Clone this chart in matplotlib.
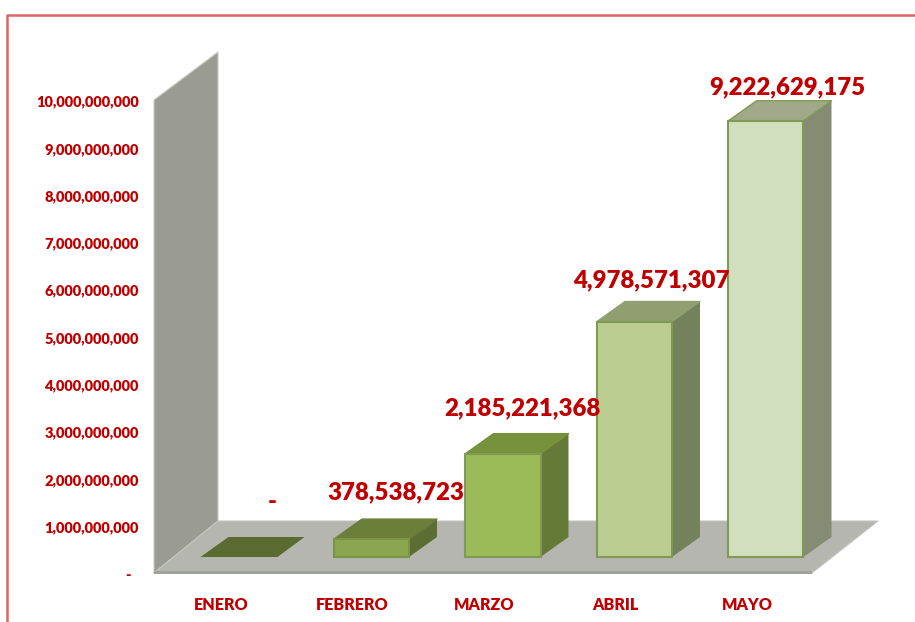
import matplotlib
matplotlib.use("Agg")
import matplotlib.pyplot as plt
from matplotlib.patches import Polygon, Rectangle
from matplotlib.ticker import FuncFormatter
from matplotlib.transforms import ScaledTranslation

plt.rcParams['font.family'] = ['Lato', 'DejaVu Sans']

meses = ['ENERO', 'FEBRERO', 'MARZO', 'ABRIL', 'MAYO']
valores = [0, 378538723, 2185221368, 4978571307, 9222629175]
marcas_y = [i * 1000000000 for i in range(11)]

# colores de cada barra: frente, tapa, lado
frente = ['#5a6a30', '#8aa64e', '#9bbb59', '#bccd92', '#d2dfbf']
tapa = ['#5a6a30', '#6b7f3a', '#76923c', '#919f70', '#a0a98a']
lado = ['#5a6a30', '#5c6e34', '#667a38', '#73825a', '#858c74']
# ajuste de la etiqueta respecto a la barra, en px
etiqueta_dx = [32, 24, 19, 17, 21]
etiqueta_dy = [55, 47, 45, 41, 33]

rojo = '#c00000'
ancho_px, alto_px = 915, 622
px_x = 131.5   # px por categoria
px_y = 47.3 / 1e9  # px por unidad

fig = plt.figure(figsize=(ancho_px / 100, alto_px / 100), dpi=100)
ax = fig.add_axes([154 / ancho_px, (alto_px - 573) / alto_px, 658 / ancho_px, 473 / alto_px])
x0 = (154 - 240) / px_x
x1 = (812 - 240) / px_x
ax.set_xlim(x0, x1)
ax.set_ylim(0, 10000000000)
ax.patch.set_visible(False)
for s in ax.spines.values():
    s.set_visible(False)


def poligono(puntos, color, borde=None, lw=0, z=1):
    ax.add_patch(Polygon(puntos, closed=True, facecolor=color, edgecolor=borde or color,
                         linewidth=lw, clip_on=False, zorder=z, joinstyle='round'))


# pared y piso
fondo_x = x0 + 64 / px_x
fondo_y = 52 / px_y
poligono([(x0, 0), (x0, 10000000000), (fondo_x, 10000000000 + 48 / px_y), (fondo_x, fondo_y)], '#9a9c94', '#c8c9c4', 0.8)
poligono([(x0, 0), (fondo_x, fondo_y), (x1 + 66 / px_x, fondo_y), (x1, 0)], '#b4b6af', '#c4c5c0', 0.8, 2)
ax.add_patch(Rectangle((x0, -1 / px_y), x1 - x0, 3 / px_y, facecolor='#a0a29c', edgecolor='none', clip_on=False, zorder=2))

# barras
ancho = 75 / px_x
prof_x = 28 / px_x
prof_y = 20 / px_y
base = 16 / px_y
borde = '#7f9a52'
for i, v in enumerate(valores):
    izq = i - ancho / 2
    der = i + ancho / 2
    arriba = base + v
    if v == 0:
        izq = izq - 2 / px_x
        poligono([(izq, base), (der, base), (der + prof_x - 1 / px_x, base + prof_y), (izq + prof_x, base + prof_y)], tapa[i], z=3)
    else:
        e = borde if i >= 2 else '#7a9448'
        poligono([(der, base), (der + prof_x, base + prof_y), (der + prof_x, arriba + prof_y), (der, arriba)], lado[i], z=3)
        poligono([(izq, arriba), (der, arriba), (der + prof_x, arriba + prof_y), (izq + prof_x, arriba + prof_y)], tapa[i], e if i == 4 else tapa[i], 1, 3)
        ax.bar(i, v, ancho, bottom=base, color=frente[i], edgecolor=e, linewidth=1.5, clip_on=False, zorder=4)
    txt = format(v, ',') if v else '-'
    ax.text(i + etiqueta_dx[i] / px_x, arriba + etiqueta_dy[i] / px_y, txt, color=rojo, fontsize=17.3,
            fontweight='heavy', ha='center', va='center', zorder=6, clip_on=False)

# ejes
ax.set_yticks(marcas_y)
ax.yaxis.set_major_formatter(FuncFormatter(lambda v, pos: format(int(v), ',') if v else '-  '))
ax.tick_params(axis='y', length=0, pad=11, labelsize=10.5, labelcolor=rojo)
ax.set_xticks([i - 19 / px_x for i in range(len(meses))])
ax.set_xticklabels(meses)
ax.tick_params(axis='x', length=0, pad=17, labelsize=11.6, labelcolor=rojo)
for t in ax.get_yticklabels() + ax.get_xticklabels():
    t.set_fontweight('heavy')
for t in ax.get_yticklabels():
    t.set_transform(t.get_transform() + ScaledTranslation(0, -1 / 100, fig.dpi_scale_trans))

# marco
fig.add_artist(plt.Line2D([7 / ancho_px, 7 / ancho_px, 1], [0, (alto_px - 15) / alto_px, (alto_px - 15) / alto_px],
                          color='#de6363', linewidth=1.8))

fig.savefig('out.png', dpi=100)
